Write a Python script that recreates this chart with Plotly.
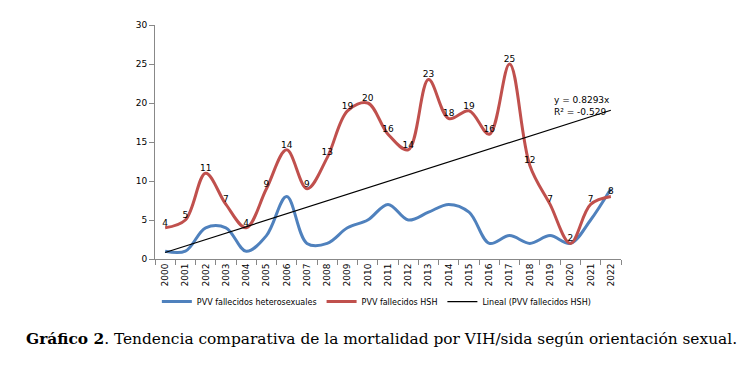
import numpy as np
import plotly.graph_objects as go

years = [str(y) for y in range(2000, 2023)]
hetero = [1, 1, 4, 4, 1, 3, 8, 2, 2, 4, 5, 7, 5, 6, 7, 6, 2, 3, 2, 3, 2, 5, 9]
hsh = [4, 5, 11, 7, 4, 9, 14, 9, 13, 19, 20, 16, 14, 23, 18, 19, 16, 25, 12, 7, 2, 7, 8]

# linear trend through origin (Excel "Lineal" with intercept 0)
xi = np.arange(1, len(years) + 1)
slope = float(np.sum(xi * np.array(hsh)) / np.sum(xi ** 2))
trend = slope * xi
ss_res = np.sum((np.array(hsh) - trend) ** 2)
ss_tot = np.sum((np.array(hsh) - np.mean(hsh)) ** 2)
r2 = 1 - ss_res / ss_tot

font_chart = "DejaVu Sans"

fig = go.Figure()
fig.add_trace(go.Scatter(
    x=years, y=hetero, mode="lines", name="PVV fallecidos heterosexuales",
    line=dict(color="#4F81BD", width=3, shape="spline", smoothing=1.0),
))
fig.add_trace(go.Scatter(
    x=years, y=hsh, mode="lines+text", name="PVV fallecidos HSH",
    line=dict(color="#C0504D", width=3, shape="spline", smoothing=1.0),
    text=[str(v) for v in hsh], textposition="top center",
    textfont=dict(family=font_chart, size=9, color="#000000"),
))
fig.add_trace(go.Scatter(
    x=years, y=trend, mode="lines", name="Lineal (PVV fallecidos HSH)",
    line=dict(color="#000000", width=1.2),
))

fig.add_annotation(
    x=0.852, y=0.71, xref="paper", yref="paper",
    text=f"y = {slope:.4f}x<br>R² = {r2:.3f}",
    showarrow=False, xanchor="left", yanchor="top", align="left",
    font=dict(family=font_chart, size=9, color="#000000"),
)

fig.add_annotation(
    x=0.487, y=-0.342, xref="paper", yref="paper",
    text="<b>Gráfico 2</b>. Tendencia comparativa de la mortalidad por VIH/sida según orientación sexual.",
    showarrow=False, xanchor="center", yanchor="middle",
    font=dict(family="DejaVu Serif", size=15.4, color="#000000"),
)

fig.update_layout(
    width=740, height=360,
    margin=dict(l=147, r=127, t=14, b=109),
    paper_bgcolor="white", plot_bgcolor="white",
    showlegend=True,
    legend=dict(orientation="h", x=0.475, xanchor="center", y=-0.12, yanchor="top",
                font=dict(family=font_chart, size=8, color="#000000"),
                itemwidth=30, tracegroupgap=0),
    xaxis=dict(
        type="category", range=[-0.5, 22.5], tickangle=-90,
        showline=True, linecolor="#888888", linewidth=1,
        ticks="outside", ticklen=5, tickcolor="#888888", tickson="boundaries",
        showgrid=False, tickfont=dict(family=font_chart, size=9, color="#000000"),
    ),
    yaxis=dict(
        range=[0, 30], dtick=5, showline=True, linecolor="#888888", linewidth=1,
        ticks="outside", ticklen=5, tickcolor="#888888", showgrid=False, zeroline=False,
        tickfont=dict(family=font_chart, size=9, color="#000000"),
    ),
)

fig.write_html("out.html")
